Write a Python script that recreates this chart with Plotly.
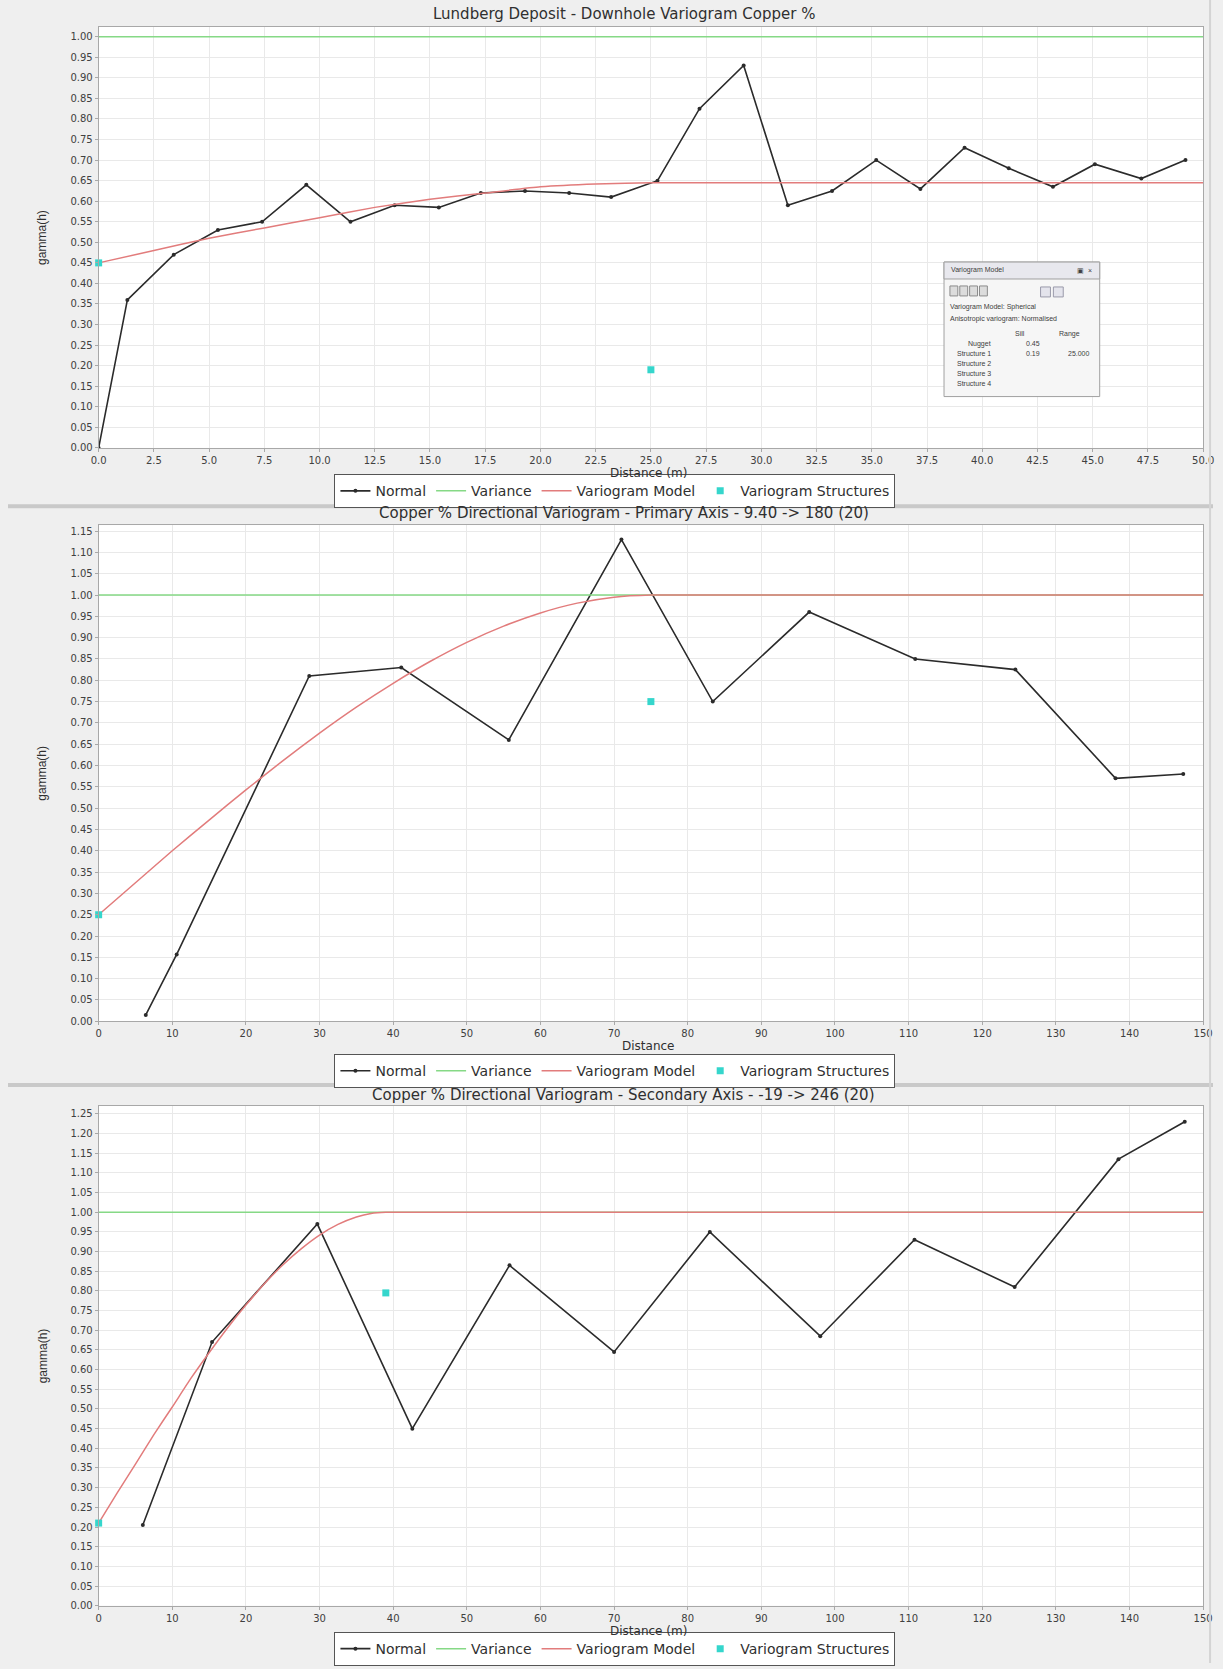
import plotly.graph_objects as go

W, H = 1223, 1669

# ---- Downhole variogram (Copper %) ----
dh_lag = [0.0, 1.3, 3.4, 5.4, 7.4, 9.4, 11.4, 13.4, 15.4, 17.3, 19.3, 21.3, 23.2,
          25.3, 27.2, 29.2, 31.2, 33.2, 35.2, 37.2, 39.2, 41.2, 43.2, 45.1, 47.2, 49.2]
dh_gamma = [0.00, 0.36, 0.47, 0.53, 0.55, 0.64, 0.55, 0.59, 0.585, 0.62, 0.625, 0.62, 0.61,
            0.65, 0.825, 0.93, 0.59, 0.625, 0.70, 0.63, 0.73, 0.68, 0.635, 0.69, 0.655, 0.70]
dh_model_x = [0, 2.5, 5, 7.5, 10, 12.5, 15, 17.5, 20, 22.5, 25, 50]
dh_model_y = [0.45, 0.48, 0.51, 0.535, 0.56, 0.585, 0.605, 0.62, 0.635, 0.642, 0.645, 0.645]
dh_struct_x = [0, 25]
dh_struct_y = [0.45, 0.19]

# ---- Primary axis directional variogram ----
pr_lag = [6.4, 10.6, 28.6, 41.1, 55.7, 71.0, 83.4, 96.5, 110.9, 124.5, 138.1, 147.3]
pr_gamma = [0.015, 0.157, 0.81, 0.83, 0.66, 1.13, 0.75, 0.96, 0.85, 0.825, 0.57, 0.58]
pr_model_x = [0, 5, 10, 15, 20, 25, 30, 35, 40, 45, 50, 55, 60, 65, 70, 75, 150]
pr_model_y = [0.25, 0.325, 0.40, 0.472, 0.543, 0.611, 0.676, 0.737, 0.793, 0.844, 0.889,
              0.927, 0.958, 0.981, 0.995, 1.0, 1.0]
pr_struct_x = [0, 75]
pr_struct_y = [0.25, 0.75]

# ---- Secondary axis directional variogram ----
se_lag = [6.0, 15.4, 29.7, 42.6, 55.8, 70.0, 83.0, 98.0, 110.8, 124.4, 138.5, 147.5]
se_gamma = [0.205, 0.67, 0.97, 0.45, 0.865, 0.645, 0.95, 0.685, 0.93, 0.81, 1.135, 1.23]
se_model_x = [0, 2.5, 5, 7.5, 10, 12.5, 15, 17.5, 20, 22.5, 25, 27.5, 30, 32.5, 35, 37, 39, 150]
se_model_y = [0.21, 0.286, 0.36, 0.435, 0.505, 0.577, 0.643, 0.706, 0.764, 0.818, 0.866,
              0.907, 0.942, 0.969, 0.988, 0.997, 1.0, 1.0]
se_struct_x = [0, 39]
se_struct_y = [0.21, 0.795]

variance = 1.0

titles = [
    "Lundberg Deposit - Downhole Variogram Copper %",
    "Copper % Directional Variogram - Primary Axis - 9.40 -> 180 (20)",
    "Copper % Directional Variogram - Secondary Axis - -19 -> 246 (20)",
]
x_titles = ["Distance (m)", "Distance", "Distance (m)"]
legend_names = ["Normal", "Variance", "Variogram Model", "Variogram Structures"]

FONT = "Liberation Sans, Arial, sans-serif"
WIDE = "DejaVu Sans, Verdana, sans-serif"
C_NORMAL = "#2b2b2b"
C_VAR = "#86d986"
C_MODEL = "#e27c7c"
C_STRUCT = "#35d6cc"


def px(x):
    return x / W


def py(y):
    return 1 - y / H


fig = go.Figure()

panels = [
    dict(lag=dh_lag, gamma=dh_gamma, mx=dh_model_x, my=dh_model_y,
         sx=dh_struct_x, sy=dh_struct_y, xmax=50, ymax=1.024, dtick=2.5, fmt=".1f",
         top=27, bottom=449.5, legend="legend", title_y=14, leg_y=493),
    dict(lag=pr_lag, gamma=pr_gamma, mx=pr_model_x, my=pr_model_y,
         sx=pr_struct_x, sy=pr_struct_y, xmax=150, ymax=1.164, dtick=10, fmt="d",
         top=527, bottom=1025, legend="legend2", title_y=515, leg_y=1075),
    dict(lag=se_lag, gamma=se_gamma, mx=se_model_x, my=se_model_y,
         sx=se_struct_x, sy=se_struct_y, xmax=150, ymax=1.27, dtick=10, fmt="d",
         top=1110, bottom=1611.5, legend="legend3", title_y=1099, leg_y=1655),
]

x_left, x_right = 92, 1213
annotations = []
layout_axes = {}

for i, p in enumerate(panels):
    n = "" if i == 0 else str(i + 1)
    xa, ya = "x" + n, "y" + n
    fig.add_trace(go.Scatter(
        x=p["lag"], y=p["gamma"], mode="lines+markers", name=legend_names[0],
        line=dict(color=C_NORMAL, width=1.6), marker=dict(size=4, color=C_NORMAL),
        xaxis=xa, yaxis=ya, legend=p["legend"]))
    fig.add_trace(go.Scatter(
        x=[0, p["xmax"]], y=[variance, variance], mode="lines", name=legend_names[1],
        line=dict(color=C_VAR, width=1.5), xaxis=xa, yaxis=ya, legend=p["legend"]))
    fig.add_trace(go.Scatter(
        x=p["mx"], y=p["my"], mode="lines", name=legend_names[2],
        line=dict(color=C_MODEL, width=1.5, shape="spline", smoothing=0.5),
        xaxis=xa, yaxis=ya, legend=p["legend"]))
    fig.add_trace(go.Scatter(
        x=p["sx"], y=p["sy"], mode="markers", name=legend_names[3],
        marker=dict(symbol="square", size=7, color=C_STRUCT),
        xaxis=xa, yaxis=ya, legend=p["legend"], cliponaxis=False))

    tickfont = dict(size=10, color="#404040", family=WIDE)
    layout_axes["xaxis" + n] = dict(
        domain=[px(x_left), px(x_right)], range=[0, p["xmax"]], anchor=ya,
        tick0=0, dtick=p["dtick"], tickformat=p["fmt"],
        showgrid=True, gridcolor="#e9e9e9", gridwidth=1, zeroline=False,
        showline=True, linecolor="#a8a8a8", linewidth=1, mirror=True,
        ticks="outside", ticklen=3, tickcolor="#a8a8a8", tickfont=tickfont)
    layout_axes["yaxis" + n] = dict(
        domain=[py(p["bottom"]), py(p["top"])], range=[0, p["ymax"]], anchor=xa,
        tick0=0, dtick=0.05, tickformat=".2f",
        showgrid=True, gridcolor="#e9e9e9", gridwidth=1, zeroline=False,
        showline=True, linecolor="#a8a8a8", linewidth=1, mirror=True,
        ticks="outside", ticklen=3, tickcolor="#a8a8a8", tickfont=tickfont)

    annotations.append(dict(text=titles[i], x=px(625), y=py(p["title_y"]),
                            xref="paper", yref="paper", showarrow=False,
                            xanchor="center", yanchor="middle",
                            font=dict(size=15, color="#303030", family=WIDE)))
    annotations.append(dict(text=x_titles[i], x=px(650), y=py(p["bottom"] + 25),
                            xref="paper", yref="paper", showarrow=False,
                            xanchor="center", yanchor="middle",
                            font=dict(size=12, color="#303030", family=WIDE)))
    annotations.append(dict(text="gamma(h)", x=px(35), y=py((p["top"] + p["bottom"]) / 2),
                            xref="paper", yref="paper", showarrow=False, textangle=-90,
                            xanchor="center", yanchor="middle",
                            font=dict(size=12, color="#303030", family=FONT)))

    layout_axes[p["legend"]] = dict(
        orientation="h", x=px(616), y=py(p["leg_y"]), xanchor="center", yanchor="middle",
        bgcolor="#ffffff", bordercolor="#555555", borderwidth=1,
        font=dict(size=14, color="#303030", family=WIDE),
        itemwidth=30, tracegroupgap=0)

# panel separators
shapes = []
for ys in (508, 1089):
    shapes.append(dict(type="line", xref="paper", yref="paper", x0=0, x1=1,
                       y0=py(ys), y1=py(ys), line=dict(color="#c9c9c9", width=4)))
shapes.append(dict(type="line", xref="paper", yref="paper", x0=px(1220), x1=px(1220),
                   y0=0, y1=1, line=dict(color="#d4d4d4", width=2)))

# variogram model parameter window in the downhole chart
bx0, by0, bx1, by1 = 950, 263, 1108, 398
shapes.append(dict(type="rect", xref="paper", yref="paper", x0=px(bx0), x1=px(bx1),
                   y0=py(by1), y1=py(by0), fillcolor="#f6f6f6",
                   line=dict(color="#a0a0a0", width=1)))
shapes.append(dict(type="rect", xref="paper", yref="paper", x0=px(bx0), x1=px(bx1),
                   y0=py(280), y1=py(by0), fillcolor="#e8e8ee",
                   line=dict(color="#a0a0a0", width=1)))
for bx in (956, 966, 976, 986):
    shapes.append(dict(type="rect", xref="paper", yref="paper", x0=px(bx), x1=px(bx + 8),
                       y0=py(297), y1=py(287), fillcolor="#dcdcdc",
                       line=dict(color="#8c8c8c", width=1)))
for bx in (1048, 1061):
    shapes.append(dict(type="rect", xref="paper", yref="paper", x0=px(bx), x1=px(bx + 10),
                       y0=py(298), y1=py(288), fillcolor="#e4e4ec",
                       line=dict(color="#9a9aaa", width=1)))


def small(text, x, y, anchor="left", size=7):
    annotations.append(dict(text=text, x=px(x), y=py(y), xref="paper", yref="paper",
                            showarrow=False, xanchor=anchor, yanchor="middle",
                            font=dict(size=size, color="#404040", family=FONT)))


small("Variogram Model", 955, 271)
small("\u25a3  \u00d7", 1102, 271, anchor="right")
small("Variogram Model: Spherical", 954, 308)
small("Anisotropic variogram: Normalised", 954, 320)
small("Sill", 1027, 335, anchor="center")
small("Range", 1077, 335, anchor="center")
small("Nugget", 1000, 345, anchor="right")
small("0.45", 1040, 345, anchor="center")
small("Structure 1", 1000, 355, anchor="right")
small("0.19", 1040, 355, anchor="center")
small("25.000", 1087, 355, anchor="center")
small("Structure 2", 1000, 365, anchor="right")
small("Structure 3", 1000, 375, anchor="right")
small("Structure 4", 1000, 385, anchor="right")

fig.update_layout(
    width=W, height=H, margin=dict(l=0, r=0, t=0, b=0),
    paper_bgcolor="#efefef", plot_bgcolor="#ffffff",
    font=dict(family=FONT, color="#303030"),
    annotations=annotations, shapes=shapes, **layout_axes)

fig.write_html("out.html")
